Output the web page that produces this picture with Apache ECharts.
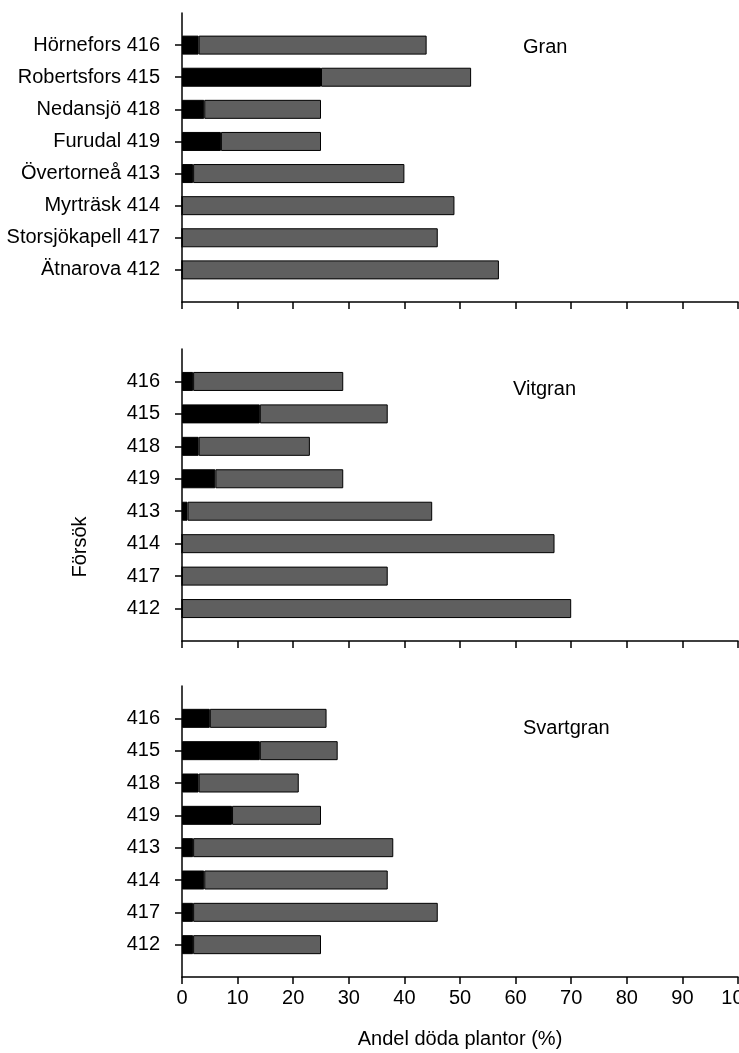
<!DOCTYPE html>
<html>
<head>
<meta charset="utf-8">
<script src="https://cdn.jsdelivr.net/npm/echarts@6/dist/echarts.min.js"></script>
<style>
  html, body { margin: 0; padding: 0; background: #fff; }
  #chart { width: 739px; height: 1053px; }
</style>
</head>
<body>
<div id="chart"></div>
<script>
// Trial sites (top to bottom) and the trial codes used in the lower panels
const granNames = ['Hörnefors 416', 'Robertsfors 415', 'Nedansjö 418', 'Furudal 419',
                   'Övertorneå 413', 'Myrträsk 414', 'Storsjökapell 417', 'Ätnarova 412'];
const forsokCodes = ['416', '415', '418', '419', '413', '414', '417', '412'];

// Share of dead plants (%): black segment and grey segment per trial
const granBlack = [3, 25, 4, 7, 2, 0, 0, 0];
const granGrey = [41, 27, 21, 18, 38, 49, 46, 57];

const vitgranBlack = [2, 14, 3, 6, 1, 0, 0, 0];
const vitgranGrey = [27, 23, 20, 23, 44, 67, 37, 70];

const svartgranBlack = [5, 14, 3, 9, 2, 4, 2, 2];
const svartgranGrey = [21, 14, 18, 16, 36, 33, 44, 23];

const xTicks = [0, 10, 20, 30, 40, 50, 60, 70, 80, 90, 100];

const FONT = '"Liberation Sans", Arial, Helvetica, sans-serif';
const INK = '#000';

const panels = [
  { title: 'Gran', labels: granNames, black: granBlack, grey: granGrey,
    top: 13, height: 289, titleX: 523, titleY: 47 },
  { title: 'Vitgran', labels: forsokCodes, black: vitgranBlack, grey: vitgranGrey,
    top: 349, height: 292, titleX: 513, titleY: 389 },
  { title: 'Svartgran', labels: forsokCodes, black: svartgranBlack, grey: svartgranGrey,
    top: 686, height: 291, titleX: 523, titleY: 728 }
];

// one empty slot above and below the eight trials gives the axis its margin
const pad = arr => [null].concat(arr, [null]);
const padLabels = arr => [''].concat(arr, ['']);

const chart = echarts.init(document.getElementById('chart'), null, { renderer: 'canvas' });

const option = {
  animation: false,
  backgroundColor: '#fff',
  textStyle: { fontFamily: FONT, color: INK },
  grid: panels.map(p => ({
    left: 182, width: 556, top: p.top, height: p.height,
    containLabel: false, outerBoundsMode: 'none'
  })),
  xAxis: panels.map((p, i) => ({
    gridIndex: i,
    type: 'value',
    min: xTicks[0],
    max: xTicks[xTicks.length - 1],
    interval: 10,
    axisLine: { show: true, lineStyle: { color: INK, width: 1.5 } },
    axisTick: { show: true, length: 7, lineStyle: { color: INK, width: 1.5 } },
    axisLabel: { show: i === 2, color: INK, fontSize: 20, fontFamily: FONT, margin: 11,
                 showMinLabel: true, showMaxLabel: true, hideOverlap: false },
    splitLine: { show: false },
    name: i === 2 ? 'Andel döda plantor (%)' : '',
    nameLocation: 'middle',
    nameGap: 52,
    nameTextStyle: { color: INK, fontSize: 20, fontFamily: FONT }
  })),
  yAxis: panels.map((p, i) => ({
    gridIndex: i,
    type: 'category',
    inverse: true,
    boundaryGap: false,
    data: padLabels(p.labels),
    axisLine: { show: true, onZero: false, lineStyle: { color: INK, width: 1.5 } },
    axisTick: {
      show: true, length: 7,
      interval: idx => idx > 0 && idx <= p.labels.length,
      lineStyle: { color: INK, width: 1.5 }
    },
    axisLabel: { interval: 0, color: INK, fontSize: 20, fontFamily: FONT, margin: 22 },
    splitLine: { show: false }
  })),
  series: panels.flatMap((p, i) => [
    {
      type: 'bar', stack: 'p' + i, xAxisIndex: i, yAxisIndex: i,
      barWidth: 19, silent: true,
      itemStyle: { color: '#000', borderColor: '#000', borderWidth: 1 },
      data: pad(p.black)
    },
    {
      type: 'bar', stack: 'p' + i, xAxisIndex: i, yAxisIndex: i,
      barWidth: 19, silent: true,
      itemStyle: { color: '#5f5f5f', borderColor: '#000', borderWidth: 1 },
      data: pad(p.grey)
    }
  ]),
  graphic: panels.map(p => ({
    type: 'text', silent: true,
    style: { x: p.titleX, y: p.titleY, text: p.title, fill: INK,
             font: '20px ' + FONT, textAlign: 'left', textVerticalAlign: 'middle' }
  })).concat([{
    type: 'text', silent: true,
    x: 80, y: 547, rotation: Math.PI / 2,
    style: { x: 0, y: 0, text: 'Försök', fill: INK,
             font: '20px ' + FONT, textAlign: 'center', textVerticalAlign: 'middle' }
  }])
};

chart.setOption(option);
</script>
</body>
</html>
